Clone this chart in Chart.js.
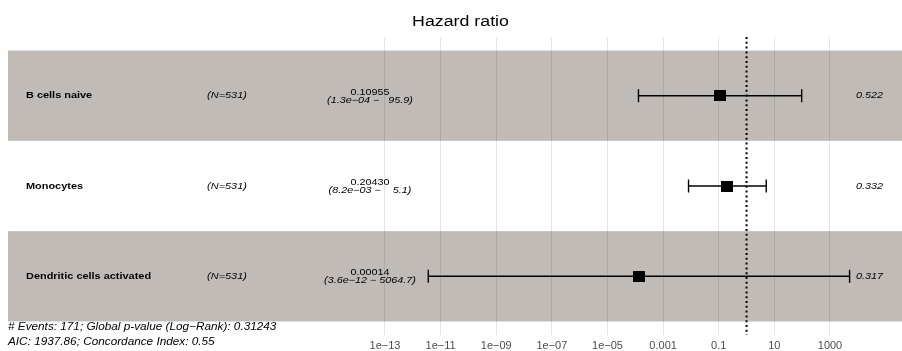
<!DOCTYPE html>
<html><head><meta charset="utf-8">
<script src="https://cdn.jsdelivr.net/npm/chart.js@4/dist/chart.umd.min.js"></script>
<style>html,body{margin:0;padding:0;background:#fff;overflow:hidden}#wrap{width:902px;height:351px;position:relative}canvas{display:block}</style>
</head><body><div id="wrap"><canvas id="c" width="902" height="351"></canvas></div>
<script>
const variables = ['B cells naive', 'Monocytes', 'Dendritic cells activated'];
const nLabels = ['(N=531)', '(N=531)', '(N=531)'];
const hazardRatios = [0.10955, 0.20430, 0.00014];
const ciLow = [1.3e-4, 8.2e-3, 3.6e-12];
const ciHigh = [95.9, 5.1, 5064.7];
const estimateLabels = ['0.10955', '0.20430', '0.00014'];
const ciLabels = ['(1.3e\u221204 \u2212   95.9)', '(8.2e\u221203 \u2212    5.1)', '(3.6e\u221212 \u2212 5064.7)'];
const pValues = ['0.522', '0.332', '0.317'];
const tickValues = [1e-13, 1e-11, 1e-9, 1e-7, 1e-5, 1e-3, 0.1, 10, 1000];
const tickLabels = ['1e\u221213', '1e\u221211', '1e\u221209', '1e\u221207', '1e\u221205', '0.001', '0.1', '10', '1000'];
const referenceValue = 1;
const titleText = 'Hazard ratio';
const footnotes = ['# Events: 171; Global p-value (Log\u2212Rank): 0.31243', 'AIC: 1937.86; Concordance Index: 0.55'];

const FONT = "'Liberation Sans', Arial, sans-serif";
const BAND = '#c0bbb7';

// horizontally stretched box marker
const box = document.createElement('canvas');
box.width = 12; box.height = 11;
const bctx = box.getContext('2d');
bctx.fillStyle = '#000'; bctx.fillRect(0, 0, 12, 11);

function txt(ctx, s, x, y, font, align, sx, color) {
  ctx.save();
  ctx.font = font;
  ctx.fillStyle = color || '#000';
  ctx.textBaseline = 'middle';
  ctx.textAlign = align;
  ctx.translate(x, y);
  ctx.scale(sx, 1);
  ctx.fillText(s, 0, 0);
  ctx.restore();
}

const forestPlugin = {
  id: 'forest',
  beforeDraw(chart) {
    const ctx = chart.ctx, ys = chart.scales.y, a = chart.chartArea;
    ctx.save();
    ctx.fillStyle = BAND;
    variables.forEach((v, i) => {
      if (i % 2 === 0) {
        const t = ys.getPixelForValue(i - 0.5), b = ys.getPixelForValue(i + 0.5);
        ctx.fillRect(a.left, t, a.right - a.left, b - t);
      }
    });
    ctx.restore();
  },
  afterDraw(chart) {
    const ctx = chart.ctx, ys = chart.scales.y;
    txt(ctx, titleText, 460.5, 22, "14px " + FONT, 'center', 1.27);
    variables.forEach((v, i) => {
      const y = ys.getPixelForValue(i);
      txt(ctx, v, 26, y, "bold 9.5px " + FONT, 'left', 1.15);
      txt(ctx, nLabels[i], 227, y, "italic 9.5px " + FONT, 'center', 1.15);
      txt(ctx, estimateLabels[i], 370, y - 3.5, "9px " + FONT, 'center', 1.2);
      txt(ctx, ciLabels[i], 370, y + 4.5, "italic 9px " + FONT, 'center', 1.2);
      txt(ctx, pValues[i], 883, y, "italic 9.5px " + FONT, 'right', 1.14);
    });
    txt(ctx, footnotes[0], 8, 327, "italic 10.5px " + FONT, 'left', 1.12);
    txt(ctx, footnotes[1], 8, 342, "italic 10.5px " + FONT, 'left', 1.12);
  }
};

const datasets = [];
datasets.push({
  type: 'scatter',
  data: hazardRatios.map((v, i) => ({ x: v, y: i })),
  pointStyle: box,
  pointRadius: 6,
  pointHoverRadius: 6
});
variables.forEach((v, i) => {
  datasets.push({
    type: 'line',
    data: [{ x: ciLow[i], y: i }, { x: ciHigh[i], y: i }],
    borderColor: '#000',
    borderWidth: 1.4,
    pointStyle: 'line',
    pointRotation: 90,
    pointRadius: 6.5,
    pointHoverRadius: 6.5,
    pointBorderWidth: 1.4,
    pointBorderColor: '#000',
    fill: false
  });
});
datasets.push({
  type: 'line',
  data: [{ x: referenceValue, y: -0.65 }, { x: referenceValue, y: 2.65 }],
  borderColor: '#000',
  borderWidth: 2,
  borderDash: [2, 2.8],
  pointRadius: 0,
  fill: false
});

new Chart(document.getElementById('c'), {
  type: 'scatter',
  data: { datasets },
  options: {
    responsive: false,
    animation: false,
    events: [],
    layout: { autoPadding: false, padding: { top: 37, left: 8, right: 0, bottom: 0 } },
    plugins: { legend: { display: false }, tooltip: { enabled: false }, title: { display: false } },
    scales: {
      x: {
        type: 'logarithmic',
        min: Math.pow(10, -26.555),
        max: Math.pow(10, 5.589),
        afterBuildTicks: (s) => { s.ticks = tickValues.map(v => ({ value: v })); },
        afterFit: (s) => { s.height = 16; s.paddingLeft = 0; s.paddingRight = 0; },
        ticks: {
          autoSkip: false, maxRotation: 0, minRotation: 0,
          padding: 4,
          color: '#4d4d4d',
          font: { family: FONT, size: 11 },
          callback: (value, index) => tickLabels[index]
        },
        grid: { color: 'rgba(0,0,0,0.1)', drawTicks: false, lineWidth: 1 },
        border: { display: false }
      },
      y: { type: 'linear', reverse: true, min: -0.65, max: 2.65, display: false }
    }
  },
  plugins: [forestPlugin]
});
</script></body></html>
